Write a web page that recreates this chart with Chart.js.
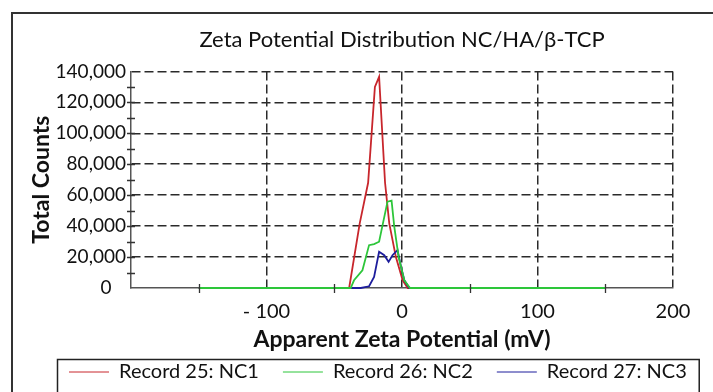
<!DOCTYPE html>
<html>
<head>
<meta charset="utf-8">
<script src="https://cdn.jsdelivr.net/npm/chart.js@4.4.1/dist/chart.umd.min.js"></script>
<style>
  html, body { margin: 0; padding: 0; background: #fff; }
  #wrap { width: 713px; height: 392px; }
</style>
</head>
<body>
<div id="wrap"><canvas id="chart" width="713" height="392"></canvas></div>
<script>
const chartTitle = "Zeta Potential Distribution NC/HA/β-TCP";
const xTitle = "Apparent Zeta Potential (mV)";
const yTitle = "Total Counts";
const seriesNames = ["Record 25: NC1", "Record 26: NC2", "Record 27: NC3"];
const seriesColors = ["#c8262c", "#2dc63a", "#1d1d9c"];

// mV / counts
const nc1Mv = [-150, -39, -31.2, -25, -20, -16.9, -12.5, -9.4, -4.5, 0.5, 4.2, 150];
const nc1Counts = [0, 0, 41800, 68000, 130000, 136500, 68000, 41800, 20000, 5000, 0, 0];
const nc2Mv = [-150, -37.9, -35.4, -29.2, -24.3, -20.6, -16.9, -10.7, -7.7, -5.7, -2.5, 1.7, 5.9, 150];
const nc2Counts = [0, 0, 5000, 11500, 27700, 28400, 29900, 55800, 56500, 39600, 20100, 5000, 0, 0];
const nc3Mv = [-150, -30.4, -24.3, -20.6, -16.9, -13.1, -9.9, -7, -3.3, -0.7, 1.7, 5.4, 150];
const nc3Counts = [0, 0, 1100, 7100, 23400, 21200, 16900, 21200, 24500, 13600, 5000, 0, 0];

const xMin = -200, xMax = 200, xStep = 50;
const yMin = 0, yMax = 140000, yStep = 10000;

function pts(xs, ys) {
  return xs.map((x, i) => ({ x: x, y: ys[i] }));
}

Chart.defaults.font.family = "Lato, 'Open Sans', sans-serif";
Chart.defaults.color = "#111";

const frame = {
  id: "frame",
  beforeDraw(chart) {
    const ctx = chart.ctx;
    ctx.save();
    ctx.fillStyle = "#fff";
    ctx.fillRect(0, 0, chart.width, chart.height);
    ctx.strokeStyle = "#333";
    ctx.lineWidth = 2;
    ctx.strokeRect(12, 13, chart.width + 50, chart.height + 50);
    ctx.restore();
  },
  afterDatasetsDraw(chart) {
    const ctx = chart.ctx;
    const xs = chart.scales.x, ys = chart.scales.y;
    ctx.save();
    ctx.strokeStyle = "#333";
    ctx.lineWidth = 1.3;
    ctx.beginPath();
    for (let v = yMin + yStep; v < yMax; v += yStep) {
      const py = Math.round(ys.getPixelForValue(v)) + 0.5;
      ctx.moveTo(xs.left - 4, py);
      ctx.lineTo(xs.left + 4, py);
    }
    for (let v = xMin + xStep; v < xMax; v += xStep) {
      if (v % 100 === 0) continue;
      const px = Math.round(xs.getPixelForValue(v)) + 0.5;
      ctx.moveTo(px, ys.bottom - 4);
      ctx.lineTo(px, ys.bottom + 5);
    }
    ctx.stroke();

    // legend box
    const lg = chart.legend;
    if (lg && lg.legendHitBoxes.length) {
      const hb = lg.legendHitBoxes;
      const l = hb[0].left - 12;
      const r = hb[hb.length - 1].left + hb[hb.length - 1].width + 12;
      const t = hb[0].top - 3;
      ctx.strokeStyle = "#222";
      ctx.lineWidth = 1.5;
      ctx.strokeRect(l + 0.5, t + 0.5, r - l, chart.height);
    }
    ctx.restore();
  }
};

new Chart(document.getElementById("chart"), {
  type: "line",
  data: {
    datasets: [
      { label: seriesNames[0], data: pts(nc1Mv, nc1Counts), borderColor: seriesColors[0], backgroundColor: seriesColors[0], order: 2 },
      { label: seriesNames[1], data: pts(nc2Mv, nc2Counts), borderColor: seriesColors[1], backgroundColor: seriesColors[1], order: 0 },
      { label: seriesNames[2], data: pts(nc3Mv, nc3Counts), borderColor: seriesColors[2], backgroundColor: seriesColors[2], order: 1 }
    ]
  },
  options: {
    responsive: false,
    animation: false,
    clip: 4,
    layout: { padding: { left: 45, right: 0, top: 0, bottom: 0 } },
    elements: {
      point: { radius: 0 },
      line: { borderWidth: 1.8, tension: 0, fill: false }
    },
    plugins: {
      tooltip: { enabled: false },
      title: {
        display: true,
        text: chartTitle,
        fullSize: false,
        font: { size: 22, weight: "normal" },
        color: "#111",
        padding: { top: 27, bottom: 18 }
      },
      legend: {
        position: "bottom",
        align: "start",
        labels: {
          usePointStyle: true,
          pointStyle: "line",
          pointStyleWidth: 40,
          padding: 24,
          font: { size: 20 },
          color: "#111",
          sort: (a, b) => a.datasetIndex - b.datasetIndex
        }
      }
    },
    scales: {
      x: {
        type: "linear",
        min: xMin,
        max: xMax,
        afterFit: s => { s.height = 50; s.paddingRight = 40; },
        ticks: {
          stepSize: xStep,
          autoSkip: false,
          maxRotation: 0,
          padding: 12,
          font: { size: 20 },
          color: "#111",
          callback: v => (v % 100 === 0 && v > xMin) ? (v < 0 ? "- " + Math.abs(v) : String(v)) : ""
        },
        grid: {
          drawTicks: false,
          lineWidth: 1.5,
          color: c => (c.tick && c.tick.value % 100 === 0 && c.tick.value > xMin) ? "#2a2a2a" : "rgba(0,0,0,0)"
        },
        border: { display: true, color: "#555", width: 1.5, dash: [9, 4] },
        title: {
          display: true,
          text: xTitle,
          font: { size: 23, weight: "bold" },
          color: "#111",
          padding: { top: 0, bottom: -15 }
        }
      },
      y: {
        min: yMin,
        max: yMax,
        afterFit: s => { s.width = 86; },
        ticks: {
          stepSize: yStep,
          autoSkip: false,
          padding: 5,
          font: { size: 19 },
          color: "#111",
          callback: v => v % 20000 === 0 ? (v === 0 ? "0   " : v.toLocaleString("en-US")) : ""
        },
        grid: {
          drawTicks: false,
          lineWidth: 1.5,
          color: c => (c.tick && c.tick.value % 20000 === 0 && c.tick.value > yMin) ? "#2a2a2a" : "rgba(0,0,0,0)"
        },
        border: { display: true, color: "#555", width: 1.5, dash: [9, 4] },
        title: {
          display: true,
          text: yTitle,
          font: { size: 23, weight: "bold" },
          color: "#111",
          padding: { top: -17, bottom: 0 }
        }
      }
    }
  },
  plugins: [frame]
});
</script>
</body>
</html>
